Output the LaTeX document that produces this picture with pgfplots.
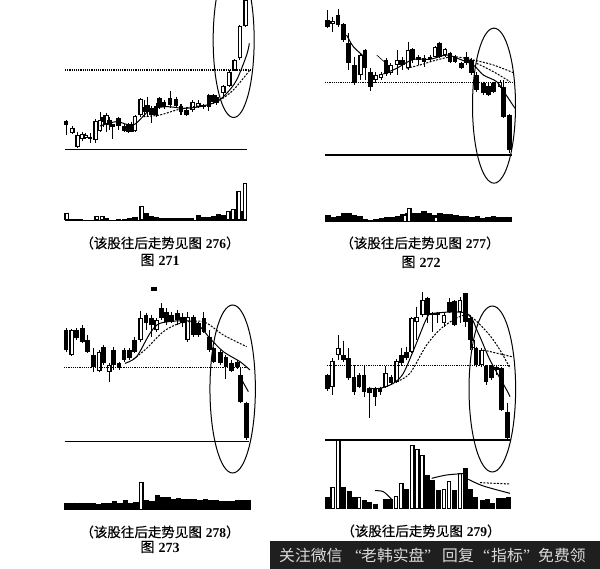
\documentclass[border=0pt]{standalone}
\usepackage{fontspec}
\usepackage{pgfplots}
\usepackage{pgfplotstable}
\pgfplotsset{compat=1.18}
\setmainfont{Liberation Serif}
\newfontfamily\cjk{Noto Sans CJK SC}
\newfontfamily\cjkb[FakeBold=0.5]{Noto Sans CJK SC}
\newcommand{\capt}[3]{\node[font=\fontsize{13.5}{14}\selectfont] at (#1,#2) {{\cjkb （该股往后走势见图}\hspace{4pt}\textbf{#3}{\cjkb ）}};}
\newcommand{\figno}[3]{\node[font=\fontsize{14}{14}\selectfont] at (#1,#2) {{\cjkb 图}\hspace{4pt}\textbf{#3}};}
\newcommand{\ban}[2]{\node[font=\fontsize{15.8}{16}\selectfont\cjk,text=white!85!black,anchor=west,inner sep=0pt] at (#1,555.5) {#2};}

% coordinates are pixels of the 3x crops, y going down
\pgfplotsset{panel/.style={hide axis,scale only axis,anchor=north west,
  y dir=reverse,xmin=0,ymin=0,clip=true}}
\pgfplotsset{seg/.style 2 args={draw=none,forget plot,mark=none,
  error bars/.cd,y dir=plus,y explicit,error mark=none,
  error bar style={draw=#1,solid,line width=#2}}}
\pgfplotsset{ma/.style={black,line width=1pt,smooth,forget plot,mark=none},
  mad/.style={ma,dash pattern=on 2pt off 1.4pt},
  ref/.style={black,line width=1.1pt,dash pattern=on 1.2pt off 1pt,forget plot,mark=none},
  base/.style={black,line width=1.2pt,forget plot,mark=none}}

% filled candles: wick and body
\newcommand{\filled}[1]{%
  \addplot[seg={black}{1pt}]
    table[x=x,y=hi,y error expr=\thisrow{lo}-\thisrow{hi}]{#1};
  \addplot[seg={black}{4.6pt}]
    table[x=x,y=top,y error expr=\thisrow{bot}-\thisrow{top}]{#1};}
% hollow candles: wick, outline, white inside
\newcommand{\hollow}[1]{%
  \addplot[seg={black}{1pt}]
    table[x=x,y=hi,y error expr=\thisrow{lo}-\thisrow{hi}]{#1};
  \addplot[seg={black}{4.6pt}]
    table[x=x,y=top,y error expr=\thisrow{bot}-\thisrow{top}]{#1};
  \addplot[seg={white}{1.9pt}]
    table[x=x,y expr=\thisrow{top}+3,y error expr=\thisrow{bot}-\thisrow{top}-6]{#1};}
% volume bars down to base #2
\newcommand{\volf}[3][5.4pt]{%
  \addplot[seg={black}{#1}]
    table[x=x,y=top,y error expr=#3-\thisrow{top}]{#2};}
\newcommand{\volh}[2]{%
  \addplot[seg={black}{4.6pt}]
    table[x=x,y=top,y error expr=#2-\thisrow{top}]{#1};
  \addplot[seg={white}{1.9pt}]
    table[x=x,y expr=\thisrow{top}+3,y error expr=#2-\thisrow{top}-6]{#1};}

% ---- 271
\pgfplotstableread{
x hi top bot lo
48 360 362 374 405
120 400 410 418 428
160 345 350 365 380
178 352 360 375 390
188 372 372 382 418
205 350 355 378 390
222 372 378 392 396
235 368 375 395 398
245 365 372 395 397
282 300 320 335 350
292 290 315 335 350
305 318 325 345 370
318 310 318 345 350
328 292 295 320 326
342 300 305 320 328
360 272 295 315 325
378 290 298 318 325
393 312 318 335 345
410 320 330 345 348
460 312 315 322 326
477 282 285 320 332
490 282 285 305 312
500 285 290 310 314
}\fA
\pgfplotstableread{
x hi top bot lo
67 378 385 400 402
83 395 405 440 445
97 395 402 418 422
107 400 405 415 418
137 358 362 420 428
150 335 360 392 395
170 340 345 372 395
255 345 348 392 395
272 295 298 345 350
428 300 305 330 335
445 300 308 320 325
520 255 258 280 295
538 210 215 258 262
554 178 180 212 214
570 76 78 175 180
587 -5 0 78 80
}\hA
\pgfplotstableread{
x top
60 656
75 658
90 658
105 659
120 659
170 655
205 657
225 656
240 655
255 650
290 640
305 648
320 652
335 654
350 654
365 654
380 654
395 654
410 654
425 653
445 645
460 650
475 650
490 648
505 642
520 644
575 632
}\vfA
\pgfplotstableread{
x top
50 638
140 648
157 648
275 618
535 632
550 628
566 572
585 550
}\vhA

% ---- 272
\pgfplotstableread{
x hi top bot lo
22 30 60 80 85
54 28 45 75 80
70 70 72 120 125
85 100 130 190 210
103 170 195 250 255
135 148 150 205 240
152 205 215 262 272
198 175 180 222 228
248 170 180 195 210
278 145 148 180 190
295 165 170 180 195
312 165 175 185 200
330 165 170 178 185
358 125 130 170 175
390 155 160 185 190
405 165 170 185 190
425 185 190 205 208
440 155 170 190 195
455 175 180 220 225
470 215 225 270 275
490 245 250 280 285
505 250 258 285 288
520 245 250 275 280
550 240 262 350 355
568 342 345 450 460
}\fB
\pgfplotstableread{
x hi top bot lo
38 50 62 72 95
122 160 165 225 240
167 215 225 240 250
183 215 222 235 240
212 190 195 220 225
232 150 180 195 225
265 125 150 205 210
345 138 142 170 172
375 145 148 165 170
540 240 245 262 265
}\hB
\pgfplotstableread{
x top
24 645
40 652
56 648
72 638
88 640
104 645
120 648
136 657
152 660
168 656
184 654
200 652
216 650
232 648
248 642
264 640
280 638
296 640
312 632
328 640
344 644
360 640
376 642
392 642
408 644
424 648
440 648
456 650
472 648
488 654
504 650
520 648
536 650
552 650
568 650
}\vfB
\pgfplotstableread{
x top
256 645
268 625
348 650
}\vhB

% ---- 273
\pgfplotstableread{
x hi top bot lo
48 145 150 210 215
80 145 150 175 180
97 135 145 185 190
113 165 180 215 218
130 205 225 260 275
160 195 200 250 255
190 200 210 255 270
207 245 250 265 270
222 205 210 240 245
238 205 210 235 240
254 172 180 215 220
288 100 105 130 150
305 105 115 135 170
335 70 85 115 120
350 85 95 125 135
365 95 105 125 130
382 90 100 120 135
398 100 110 130 140
430 105 110 165 170
445 125 130 165 170
462 95 115 155 160
478 150 170 210 215
492 200 205 245 250
512 210 215 250 255
528 225 230 262 298
545 240 250 272 275
562 240 245 262 268
572 262 285 365 368
590 365 370 475 480
}\fC
\pgfplotstableread{
x hi top bot lo
65 148 150 225 228
148 210 215 272 275
178 250 255 275 305
272 92 115 180 185
320 115 120 150 155
413 95 110 180 185
}\hC
\pgfplotstableread{
x top
50 670
66 668
82 668
98 670
114 668
130 670
146 672
162 670
178 670
194 664
210 668
226 660
242 668
258 666
290 660
306 662
322 645
338 652
354 652
370 658
386 655
402 656
418 656
434 658
450 660
466 656
482 660
498 660
514 662
530 662
546 662
562 660
578 660
594 660
}\vfC
\pgfplotstableread{
x top
274 605
}\vhC

% ---- 279
\pgfplotstableread{
x hi top bot lo
22 282 285 328 332
70 182 225 240 245
85 205 235 295 300
102 255 290 335 345
117 280 285 320 325
132 255 285 335 352
148 320 325 340 415
165 320 325 350 378
180 320 325 335 345
213 285 290 310 315
245 205 225 250 255
260 200 215 235 240
322 50 55 105 130
337 95 100 105 155
352 95 100 105 130
388 55 65 95 100
404 60 62 135 138
436 38 40 125 140
452 105 115 180 210
468 200 205 255 262
498 255 258 305 315
514 255 258 295 300
530 258 262 270 285
545 260 265 390 393
562 368 395 475 482
}\fD
\pgfplotstableread{
x hi top bot lo
37 235 242 322 345
55 165 205 225 240
197 258 280 320 325
230 238 242 305 310
275 112 115 215 220
290 80 110 125 180
308 35 60 105 110
372 95 105 130 140
420 50 60 95 130
485 205 210 255 260
458 178 180 205 210
}\hD
\pgfplotstableread{
x top
22 650
70 620
87 632
102 652
132 660
149 665
165 672
197 658
212 658
258 628
322 585
338 600
354 630
403 630
437 565
452 628
467 650
487 660
503 658
518 670
534 655
550 655
566 650
}\vfD
\pgfplotstableread{
x top
38 622
55 480
117 650
228 648
244 608
277 495
292 508
307 525
372 628
387 603
420 580
}\vhD

\begin{document}
\begin{tikzpicture}
\path[use as bounding box] (0,0) rectangle (600pt,569pt);

% 271
\begin{axis}[panel,at={(50pt,569pt)},width=220pt,height=270pt,xmax=660,ymax=810]
\hollow{\hA}
\filled{\fA}
\addplot[ma] coordinates {(150,378)(200,365)(250,375)(300,330)(350,320)(400,325)(450,320)(500,305)(530,280)(560,240)(590,165)(598,130)};
\addplot[mad] coordinates {(280,350)(330,345)(380,330)(430,320)(470,315)(510,300)(550,270)(600,210)};
\addplot[ref] coordinates {(45,210)(600,210)};
\addplot[base] coordinates {(45,448)(592,448)};
\volf{\vfA}{660}
\volh{\vhA}{660}
\addplot[base] coordinates {(45,661)(592,661)};
\draw[line width=1pt] (axis cs:551,120) ellipse [x radius=20.5pt,y radius=77.5pt];
\end{axis}

% 272
\begin{axis}[panel,at={(320pt,569pt)},width=210pt,height=270pt,xmax=630,ymax=810]
\hollow{\hB}
\filled{\fB}
\addplot[ma] coordinates {(80,105)(100,140)(135,172)};
\addplot[ma,line width=0.6pt] coordinates {(170,165)(198,190)};
\addplot[ma] coordinates {(190,222)(230,205)(280,178)(330,178)(380,165)(420,178)(460,195)(490,225)(530,245)(555,280)(585,325)};
\addplot[mad] coordinates {(260,205)(300,195)(350,180)(400,170)(460,180)(520,195)(580,218)};
\addplot[mad] coordinates {(470,190)(520,215)(570,245)};
\addplot[ref] coordinates {(15,248)(578,248)};
\addplot[base] coordinates {(15,465)(575,465)};
\volf{\vfB}{665}
\volh{\vhB}{665}
\draw[line width=1pt] (axis cs:522,317) ellipse [x radius=21.5pt,y radius=77.5pt];
\end{axis}

% 273
\begin{axis}[panel,at={(50pt,289pt)},width=220pt,height=280pt,xmax=660,ymax=840]
\hollow{\hC}
\filled{\fC}
\addplot[ma] coordinates {(225,250)(260,230)(300,160)(330,130)(400,122)(440,130)(480,175)(520,215)(570,245)(600,270)};
\addplot[ma] coordinates {(570,290)(595,335)};
\addplot[mad] coordinates {(250,238)(290,205)(340,155)(390,130)(460,125)(520,165)(590,200)};
\addplot[ref] coordinates {(42,262)(595,262)};
\addplot[base] coordinates {(44,484)(598,484)};
\volf{\vfC}{690}
\volh{\vhC}{690}
\addplot[seg={black}{6pt}] coordinates {(312,22) +- (0,11)};
\draw[line width=1pt] (axis cs:548,327) ellipse [x radius=22.7pt,y radius=84pt];
\end{axis}

% 279
\begin{axis}[panel,at={(320pt,289pt)},width=280pt,height=289pt,xmax=840,ymax=867]
\hollow{\hD}
\filled{\fD}
\addplot[ma] coordinates {(148,325)(180,325)(220,310)(250,280)(285,200)(320,115)(340,100)(440,100)(475,160)(510,240)(560,330)(570,350)};
\addplot[mad] coordinates {(230,305)(270,280)(320,195)(370,140)(440,105)(500,155)(540,210)(570,265)};
\addplot[mad] coordinates {(490,210)(575,230)};
\addplot[ref] coordinates {(20,257)(570,257)};
\addplot[base] coordinates {(15,480)(572,480)};
\volf[5pt]{\vfD}{688}
\volh{\vhD}{688}
\addplot[ma] coordinates {(165,632)(190,635)(215,658)};
\addplot[ma] coordinates {(335,595)(380,585)(440,580)};
\addplot[ma] coordinates {(445,598)(490,618)(570,640)};
\addplot[mad] coordinates {(480,608)(570,612)};
\draw[line width=1pt] (axis cs:517,327) ellipse [x radius=23.3pt,y radius=83pt];
\end{axis}

% captions and the banner, in image pixels
\begin{scope}[shift={(0,569pt)},x=1pt,y=-1pt]
\capt{160}{243}{276}
\figno{160}{260}{271}
\capt{420}{243}{277}
\figno{421}{262}{272}
\capt{160}{532}{278}
\figno{160}{547}{273}
\capt{421}{531}{279}
\fill[black!88] (270,541) rectangle (600,569);
\ban{279}{关注微信}
\ban{355}{\rmfamily “}
\ban{361}{老韩实盘}
\ban{424}{\rmfamily ”}
\ban{442}{回复}
\ban{483}{\rmfamily “}
\ban{491}{指标}
\ban{523}{\rmfamily ”}
\ban{538}{免费领}
\end{scope}
\end{tikzpicture}
\end{document}
